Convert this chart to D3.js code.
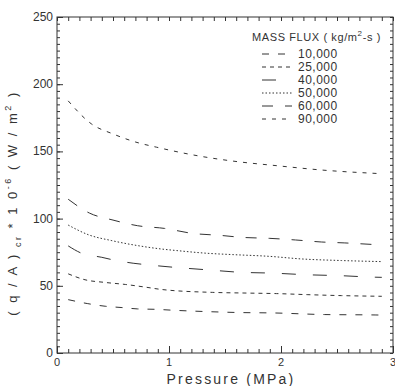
<!DOCTYPE html>
<html><head><meta charset="utf-8">
<script src="https://cdn.jsdelivr.net/npm/d3@7"></script>
<style>
html,body{margin:0;padding:0;background:#fff;}
svg{display:block;}
text{font-family:"Liberation Sans","DejaVu Sans",sans-serif;fill:#333;}
</style></head>
<body>
<svg id="chart" width="395" height="386"></svg>
<script>
// ---- data ----
const seriesNames = ["10,000", "25,000", "40,000", "50,000", "60,000", "90,000"];
const p10k = [0.10,0.27,0.43,0.58,0.72,0.88,1.04,1.34,1.63,1.93,2.39,2.84,2.90];
const v10k = [39.7,36.8,34.8,33.8,32.8,32.5,31.8,30.8,30.1,29.8,28.6,28.3,28.2];
const p25k = [0.10,0.25,0.43,0.61,0.79,0.93,1.39,1.69,1.96,2.24,2.54,2.90];
const v25k = [58.9,54.5,52.5,51.0,49.0,47.3,45.1,44.6,44.2,43.4,42.7,42.2];
const p40k = [0.10,0.22,0.40,0.50,0.68,0.81,1.04,1.34,1.63,1.93,2.24,2.54,2.84,2.90];
const v40k = [79.7,74.2,71.2,69.3,66.8,65.6,63.8,61.9,60.1,59.4,58.2,57.5,56.4,56.3];
const p50k = [0.10,0.28,0.49,0.72,0.93,1.07,1.34,1.57,1.90,2.18,2.54,2.90];
const v50k = [95.2,88.0,83.6,79.9,77.4,76.2,74.2,73.2,71.9,70.0,68.8,68.0];
const p60k = [0.10,0.29,0.50,0.72,0.96,1.21,1.46,1.66,1.90,2.13,2.36,2.57,2.81,2.90];
const v60k = [114.4,104.1,98.9,94.7,92.7,89.0,87.5,86.0,85.3,84.1,82.6,81.9,80.8,80.4];
const p90k = [0.10,0.31,0.50,0.70,0.89,1.28,1.57,1.97,2.37,2.90];
const v90k = [187.6,170.3,163.0,157.0,153.1,146.4,142.8,139.3,136.1,133.4];
const xTicks = [0, 1, 2, 3];
const xTickLabels = ["0", "1", "2", "3"];
const yTicks = [0, 50, 100, 150, 200, 250];
const yTickLabels = ["0", "50", "100", "150", "200", "250"];
const dashes = ["7,9", "4,4", "14,17", "1.5,2", "11,12", "4,6"];

const series = [
  {name: seriesNames[0], p: p10k, v: v10k, dash: dashes[0]},
  {name: seriesNames[1], p: p25k, v: v25k, dash: dashes[1]},
  {name: seriesNames[2], p: p40k, v: v40k, dash: dashes[2]},
  {name: seriesNames[3], p: p50k, v: v50k, dash: dashes[3]},
  {name: seriesNames[4], p: p60k, v: v60k, dash: dashes[4]},
  {name: seriesNames[5], p: p90k, v: v90k, dash: dashes[5]}
];

const svg = d3.select("#chart");
const L = 57, R = 393, T = 17, B = 353;
const x = d3.scaleLinear().domain([0, 3]).range([L, R]);
const y = d3.scaleLinear().domain([0, 250]).range([B, T]);
const ink = "#333";

// frame
svg.append("rect").attr("x", L).attr("y", T).attr("width", R - L).attr("height", B - T)
  .attr("fill", "none").attr("stroke", ink).attr("stroke-width", 1);

// axes (ticks inward)
const xMinor = d3.range(0, 3.0001, 0.1);
const yMinor = d3.range(0, 250.0001, 5);
function styleAxis(g){ g.select(".domain").remove(); g.selectAll("line").attr("stroke", ink); }

svg.append("g").attr("transform", `translate(0,${B})`)
  .call(d3.axisTop(x).tickValues(xMinor).tickSize(4).tickFormat(""))
  .call(styleAxis);
svg.append("g").attr("transform", `translate(0,${B})`)
  .call(d3.axisTop(x).tickValues(xTicks).tickSize(7).tickFormat(""))
  .call(styleAxis);
svg.append("g").attr("transform", `translate(0,${T})`)
  .call(d3.axisBottom(x).tickValues(xMinor).tickSize(4).tickFormat(""))
  .call(styleAxis);
svg.append("g").attr("transform", `translate(${L},0)`)
  .call(d3.axisRight(y).tickValues(yMinor).tickSize(3).tickFormat(""))
  .call(styleAxis);
svg.append("g").attr("transform", `translate(${L},0)`)
  .call(d3.axisRight(y).tickValues(yTicks).tickSize(6).tickFormat(""))
  .call(styleAxis);
svg.append("g").attr("transform", `translate(${R},0)`)
  .call(d3.axisLeft(y).tickValues(yMinor).tickSize(3).tickFormat(""))
  .call(styleAxis);

// tick labels
svg.append("g").selectAll("text").data(xTicks).join("text")
  .attr("x", d => x(d)).attr("y", B + 13).attr("text-anchor", "middle")
  .attr("font-size", 11).text((d, i) => xTickLabels[i]);
svg.append("g").selectAll("text").data(yTicks).join("text")
  .attr("x", L - 4).attr("y", d => y(d) + 4).attr("text-anchor", "end")
  .attr("font-size", 12).text((d, i) => yTickLabels[i]);

// curves
const line = d3.line().x(d => x(d[0])).y(d => y(d[1])).curve(d3.curveMonotoneX);
svg.append("g").selectAll("path").data(series).join("path")
  .attr("d", s => line(s.p.map((pv, i) => [pv, s.v[i]])))
  .attr("fill", "none").attr("stroke", ink).attr("stroke-width", 1)
  .attr("stroke-dasharray", s => s.dash);

// legend
svg.append("text").attr("x", 252).attr("y", 41).attr("font-size", 11)
  .attr("letter-spacing", 0.6)
  .html('MASS FLUX ( kg/m<tspan dy="-5" font-size="8">2</tspan><tspan dy="5">-s )</tspan>');
const lg = svg.append("g").selectAll("g").data(series).join("g")
  .attr("transform", (d, i) => `translate(0,${54 + i * 13})`);
lg.append("line").attr("x1", 262).attr("x2", 292).attr("y1", 0).attr("y2", 0)
  .attr("stroke", ink).attr("stroke-width", 1).attr("stroke-dasharray", d => d.dash);
lg.append("text").attr("x", 298).attr("y", 4).attr("font-size", 12)
  .attr("letter-spacing", 0.5).text(d => d.name);

// axis titles
svg.append("text").attr("x", 231).attr("y", 384).attr("text-anchor", "middle")
  .attr("font-size", 14).attr("letter-spacing", 2.2).text("Pressure (MPa)");
svg.append("text").attr("transform", "translate(17,203) rotate(-90)")
  .attr("text-anchor", "middle").attr("font-size", 13).attr("letter-spacing", 2.5)
  .html('( q / A )<tspan dy="4" font-size="9"> cr</tspan><tspan dy="-4"> * 1 0</tspan><tspan dy="-6" font-size="9">-6</tspan><tspan dy="6"> ( W / m</tspan><tspan dy="-6" font-size="9">2</tspan><tspan dy="6"> )</tspan>');
</script>
</body></html>
